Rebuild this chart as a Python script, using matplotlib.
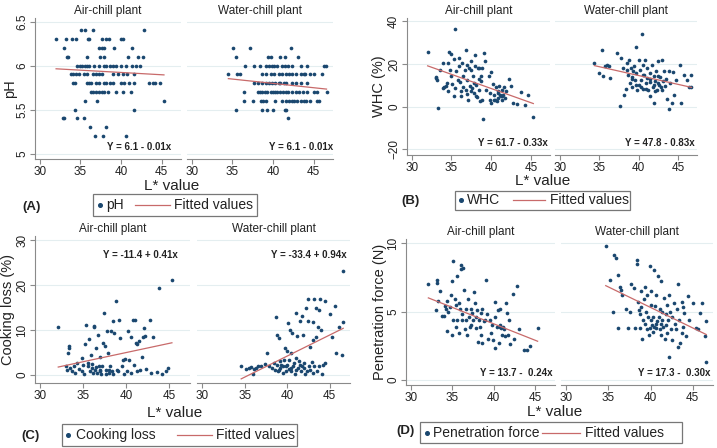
import numpy as np
import matplotlib
matplotlib.use("Agg")
import matplotlib.pyplot as plt
from matplotlib.lines import Line2D
from matplotlib.patches import Rectangle

plt.rcParams['font.family'] = ['Liberation Sans', 'DejaVu Sans']

W, H = 717, 448
groups = ["Air-chill plant", "Water-chill plant"]
x_ticks = [30, 35, 40, 45]
x_lim = (29.4, 47.4)

# (L*, value) pairs
ph_air = [(35.1, 6.4), (35.6, 6.4), (36.6, 6.4), (42.8, 6.4),
          (32.0, 6.3), (33.2, 6.3), (34.0, 6.3), (34.5, 6.3), (35.9, 6.3), (36.1, 6.3), (37.7, 6.3),
          (38.2, 6.3), (38.5, 6.3), (40.0, 6.3), (40.2, 6.3),
          (33.0, 6.2), (37.3, 6.2), (37.7, 6.2), (37.9, 6.2), (39.2, 6.2), (41.4, 6.2),
          (33.3, 6.1), (33.5, 6.1), (35.8, 6.1), (37.4, 6.1), (37.9, 6.1), (40.9, 6.1), (42.1, 6.1), (42.7, 6.1),
          (34.6, 6.0), (34.9, 6.0), (35.2, 6.0), (35.6, 6.0), (35.8, 6.0), (36.1, 6.0), (36.7, 6.0), (37.3, 6.0),
          (37.9, 6.0), (38.2, 6.0), (38.7, 6.0), (39.0, 6.0), (39.4, 6.0), (40.0, 6.0), (40.6, 6.0), (41.3, 6.0),
          (41.9, 6.0), (42.4, 6.0),
          (33.8, 5.9), (34.1, 5.9), (34.4, 5.9), (34.8, 5.9), (35.4, 5.9), (35.8, 5.9), (36.6, 5.9), (36.9, 5.9),
          (37.3, 5.9), (37.7, 5.9), (39.0, 5.9), (39.6, 5.9), (40.2, 5.9), (40.8, 5.9), (41.6, 5.9),
          (34.1, 5.8), (34.3, 5.8), (35.8, 5.8), (36.0, 5.8), (36.3, 5.8), (36.9, 5.8), (37.3, 5.8), (37.9, 5.8),
          (38.2, 5.8), (38.6, 5.8), (39.0, 5.8), (40.0, 5.8), (40.4, 5.8), (41.0, 5.8), (41.6, 5.8), (43.5, 5.8),
          (43.9, 5.8), (44.2, 5.8), (44.8, 5.8),
          (36.3, 5.7), (36.5, 5.7), (36.9, 5.7), (37.3, 5.7), (37.7, 5.7), (37.9, 5.7), (38.4, 5.7), (39.4, 5.7),
          (40.3, 5.7), (41.2, 5.7),
          (35.6, 5.6), (37.1, 5.6), (45.3, 5.6), (34.3, 5.5), (41.6, 5.5),
          (32.8, 5.4), (33.0, 5.4), (34.6, 5.4), (35.4, 5.4), (36.2, 5.3), (38.1, 5.3),
          (36.8, 5.2), (37.8, 5.2), (40.6, 5.2)]
ph_water = [(35.1, 6.2), (37.2, 6.2), (42.2, 6.2),
            (35.5, 6.1), (39.4, 6.1), (39.8, 6.1), (40.9, 6.1), (41.5, 6.1), (43.1, 6.1),
            (36.5, 6.0), (37.7, 6.0), (38.4, 6.0), (39.1, 6.0), (39.5, 6.0), (39.9, 6.0), (40.1, 6.0), (40.5, 6.0),
            (41.1, 6.0), (41.5, 6.0), (41.9, 6.0), (42.4, 6.0), (43.4, 6.0), (44.2, 6.0), (46.3, 6.0), (46.5, 6.0),
            (34.5, 5.9), (35.6, 5.9), (35.9, 5.9), (38.7, 5.9), (39.2, 5.9), (39.7, 5.9), (40.1, 5.9), (40.7, 5.9),
            (41.1, 5.9), (41.6, 5.9), (42.0, 5.9), (42.4, 5.9), (42.8, 5.9), (43.4, 5.9), (43.8, 5.9), (44.0, 5.9),
            (44.6, 5.9), (45.0, 5.9), (46.0, 5.9),
            (37.7, 5.8), (38.1, 5.8), (38.7, 5.8), (39.1, 5.8), (39.5, 5.8), (39.9, 5.8), (40.3, 5.8), (40.7, 5.8),
            (40.9, 5.8), (41.3, 5.8), (41.6, 5.8), (42.3, 5.8), (42.8, 5.8), (43.4, 5.8), (44.2, 5.8),
            (36.4, 5.7), (38.1, 5.7), (38.4, 5.7), (38.7, 5.7), (39.0, 5.7), (39.3, 5.7), (39.7, 5.7), (40.0, 5.7),
            (40.3, 5.7), (40.5, 5.7), (40.9, 5.7), (41.2, 5.7), (41.6, 5.7), (41.9, 5.7), (42.3, 5.7), (42.8, 5.7),
            (43.2, 5.7), (43.7, 5.7), (44.2, 5.7), (45.0, 5.7), (45.4, 5.7), (46.6, 5.7),
            (36.4, 5.6), (37.5, 5.6), (38.5, 5.6), (38.8, 5.6), (39.1, 5.6), (40.3, 5.6), (41.1, 5.6), (41.6, 5.6),
            (42.0, 5.6), (42.3, 5.6), (42.6, 5.6), (43.0, 5.6), (43.4, 5.6), (43.8, 5.6), (44.1, 5.6), (44.6, 5.6),
            (45.4, 5.6), (45.7, 5.6),
            (35.5, 5.5), (38.7, 5.5), (39.3, 5.5), (40.0, 5.5), (41.5, 5.5), (41.6, 5.5), (41.9, 5.4)]

whc_air = [(32.0, 25.5), (33.0, 14.0), (33.1, 13.4), (33.2, 12.7), (33.3, -0.6), (33.5, 17.0), (33.9, 20.5),
           (34.1, 9.2), (34.3, 9.8), (34.4, 11.0), (34.6, 20.5), (34.7, 25.5), (35.0, 24.8), (34.8, 17.0),
           (35.0, 14.2), (35.1, 10.6), (35.3, 4.8), (35.3, 22.3), (35.5, 36.4), (35.6, 16.6), (35.8, 12.7),
           (35.9, 19.0), (36.0, 22.8), (36.1, 11.5), (36.2, 4.8), (36.3, 20.5), (36.4, 9.0), (36.5, 14.2),
           (36.8, 26.7), (36.7, 17.4), (36.8, 8.0), (36.9, 19.7), (37.0, 12.7), (37.1, 3.3), (37.2, 18.1),
           (37.3, 9.8), (37.4, 21.3), (37.5, 17.4), (37.6, 8.8), (37.7, 14.2), (37.8, 6.4), (37.9, 24.4),
           (38.0, 18.9), (38.1, 10.3), (38.2, 4.4), (38.3, 18.1), (38.4, 8.0), (38.5, 18.1), (38.6, 2.5),
           (38.7, 11.9), (38.8, 18.1), (38.9, 3.3), (39.0, -5.8), (39.1, 25.2), (39.2, 21.3), (39.4, 8.0),
           (39.7, 14.2), (39.9, 6.4), (40.0, 16.3), (40.0, 1.7), (40.2, 10.6), (40.3, 3.3), (40.4, 5.6),
           (40.6, 9.2), (40.7, 2.5), (40.8, 6.4), (40.9, 4.1), (41.0, 9.5), (41.1, 5.6), (41.2, 4.8), (41.3, 8.0),
           (41.4, 3.3), (41.5, 5.6), (41.6, 9.0), (41.7, 4.1), (41.9, 7.2), (42.3, 13.1), (42.5, 9.8),
           (42.7, 1.7), (43.2, 1.4), (43.8, 6.7), (44.2, 0.9), (44.6, 5.6), (45.3, -5.0), (33.9, 8.8),
           (34.5, 7.2), (35.5, 8.8), (36.2, 7.2), (36.9, 6.1), (37.4, 7.2), (38.1, 4.8), (38.4, 13.0),
           (38.7, 14.2), (37.8, 11.1), (39.8, 3.3), (40.5, 3.3), (40.9, 7.2), (41.3, 5.2)]
whc_water = [(34.4, 20.5), (35.0, 15.8), (35.4, 26.7), (35.5, 14.2), (35.8, 19.2), (36.0, 19.7), (36.2, 19.2),
             (36.4, 13.4), (37.2, 25.2), (37.6, 0.5), (37.8, 22.8), (38.0, 18.1), (38.2, 5.6), (38.4, 8.3),
             (38.5, 20.5), (38.5, 17.4), (38.7, 15.0), (38.8, 22.0), (38.9, 11.1), (39.0, 18.1), (39.1, 13.9),
             (39.2, 9.2), (39.3, 16.6), (39.4, 19.2), (39.5, 12.7), (39.7, 28.0), (39.7, 15.8), (39.8, 7.7),
             (40.0, 10.3), (40.1, 22.0), (40.2, 17.4), (40.3, 12.7), (40.4, 34.2), (40.5, 19.7), (40.6, 8.3),
             (40.7, 15.0), (40.8, 22.0), (40.9, 11.1), (41.0, 13.4), (41.1, 18.1), (41.2, 8.0), (41.4, 15.8),
             (41.5, 11.5), (41.5, 4.8), (41.7, 19.7), (41.8, 9.2), (41.9, 14.2), (42.0, 1.7), (42.1, 11.9),
             (42.2, 16.6), (42.3, 8.0), (42.4, 14.5), (42.5, 21.3), (42.6, 10.3), (42.7, 13.9), (42.9, 7.7),
             (42.9, 22.0), (43.1, 11.9), (43.2, 16.6), (43.4, 9.5), (43.5, 12.9), (43.6, 3.6), (43.8, -1.1),
             (43.9, 16.6), (44.0, 11.1), (44.2, 1.7), (44.4, 16.1), (44.5, 5.6), (44.8, 12.7), (45.2, 19.7),
             (45.4, 1.7), (45.8, 15.0), (46.1, 12.4), (46.4, 9.2), (46.7, 15.0), (46.7, 9.2),
             (40.3, 9.2), (40.9, 8.3), (41.4, 13.0), (41.9, 10.3), (42.4, 11.1), (42.8, 9.2), (42.1, 7.2),
             (40.5, 15.0), (39.7, 10.3), (39.2, 13.0)]

cook_air = [(32.1, 10.6), (33.0, 1.9), (33.1, 1.2), (33.3, 6.5), (33.4, 6.0), (33.2, 4.9), (33.5, 1.6),
            (33.7, 0.8), (33.9, 2.1), (34.1, 0.4), (34.3, 2.7), (34.5, 1.3), (34.8, 3.8), (34.9, 0.8),
            (35.1, 0.3), (35.2, 7.0), (35.3, 11.2), (35.5, 1.9), (35.6, 2.7), (35.7, 8.0), (35.8, 0.8),
            (35.9, 4.5), (36.0, 1.6), (36.1, 0.4), (36.2, 10.8), (36.3, 11.0), (36.4, 1.2), (36.5, 6.0),
            (36.6, 0.4), (36.7, 9.0), (36.8, 1.9), (36.9, 0.8), (37.0, 4.0), (37.1, 0.1), (37.2, 1.9),
            (37.3, 7.1), (37.4, 13.8), (37.5, 6.4), (37.6, 1.2), (37.7, 0.3), (37.8, 9.7), (37.9, 4.9),
            (38.0, 1.2), (38.1, 2.1), (38.2, 9.7), (38.3, 0.8), (38.4, 12.1), (38.5, 0.3), (38.6, 9.3),
            (38.8, 16.6), (38.9, 1.2), (39.0, 0.8), (39.2, 12.3), (39.3, 8.2), (39.5, 1.9), (39.6, 3.4),
            (39.7, 0.1), (39.9, 3.6), (40.1, 0.8), (40.2, 9.9), (40.3, 3.3), (40.5, 8.5), (40.6, 0.4),
            (40.8, 12.3), (40.9, 2.3), (41.0, 12.3), (41.1, 7.1), (41.2, 0.8), (41.3, 6.8), (41.5, 7.5),
            (41.6, 1.2), (41.8, 4.0), (41.9, 8.5), (42.1, 10.5), (42.2, 8.6), (42.3, 1.4), (42.7, 12.3),
            (42.9, 0.4), (43.1, 8.4), (43.6, 0.6), (43.8, 19.4), (44.1, 0.3), (44.6, 0.8), (44.9, 1.6),
            (45.3, 21.1), (36.0, 2.5), (37.0, 1.0), (38.0, 0.5), (36.5, 1.7), (35.0, 2.2)]
cook_water = [(34.6, 1.9), (35.2, 1.3), (35.5, 1.6), (35.7, 1.8), (36.0, 0.3), (36.1, 1.3), (36.3, 1.6),
              (36.6, 1.9), (36.9, 1.9), (37.4, 2.5), (37.6, 4.9), (37.9, 1.9), (38.2, 1.6), (38.4, 2.7),
              (38.6, 1.2), (38.7, 12.9), (38.8, 9.0), (38.8, 2.3), (38.9, 0.8), (39.1, 8.2), (39.2, 1.6),
              (39.2, 3.0), (39.3, 2.3), (39.5, 0.4), (39.5, 1.9), (39.6, 3.4), (39.7, 6.0), (39.9, 0.8),
              (39.9, 1.9), (40.0, 5.3), (40.1, 11.6), (40.2, 1.3), (40.2, 3.4), (40.3, 10.0), (40.4, 0.8),
              (40.5, 4.9), (40.6, 9.4), (40.7, 1.9), (40.8, 2.7), (40.9, 0.3), (41.0, 13.8), (41.1, 3.8),
              (41.2, 8.6), (41.3, 1.6), (41.4, 3.0), (41.5, 12.0), (41.6, 0.8), (41.7, 13.2), (41.8, 1.9),
              (41.9, 9.0), (42.0, 2.7), (42.1, 0.1), (42.2, 14.9), (42.3, 0.8), (42.4, 17.0), (42.5, 12.0),
              (42.6, 1.9), (42.7, 6.2), (42.7, 1.2), (42.9, 2.8), (43.0, 11.7), (43.1, 7.9), (43.2, 17.0),
              (43.2, 1.9), (43.4, 8.4), (43.4, 14.9), (43.5, 0.8), (43.6, 10.7), (43.7, 14.6), (43.8, 1.9),
              (43.9, 17.0), (44.0, 10.1), (44.1, 0.1), (44.2, 2.3), (44.4, 16.4), (44.5, 2.7), (45.0, 13.6),
              (45.3, 8.4), (45.6, 15.3), (45.8, 5.0), (46.1, 10.8), (46.4, 4.4), (46.6, 11.8), (46.6, 23.2),
              (39.0, 1.2), (40.0, 2.2), (41.0, 1.0), (42.0, 1.5), (43.0, 0.5), (41.5, 2.3), (40.5, 1.5)]

pen_air = [(32.1, 7.0), (33.0, 5.1), (33.1, 7.3), (33.2, 7.1), (33.3, 5.8), (33.5, 6.5), (33.8, 4.7),
           (34.0, 4.7), (34.1, 5.4), (34.2, 5.2), (34.4, 5.8), (34.4, 3.6), (34.5, 5.0), (34.7, 5.3),
           (34.8, 6.2), (34.9, 3.3), (35.0, 7.2), (35.1, 4.4), (35.1, 8.7), (35.3, 5.9), (35.4, 3.9),
           (35.5, 5.5), (35.6, 7.6), (35.6, 4.4), (35.8, 5.6), (35.8, 3.4), (35.9, 5.2), (36.0, 8.4),
           (36.1, 8.1), (36.2, 4.8), (36.2, 4.4), (36.3, 8.2), (36.4, 6.6), (36.5, 3.7), (36.6, 5.2),
           (36.7, 4.4), (36.8, 3.3), (36.9, 5.9), (37.0, 4.6), (37.1, 3.9), (37.2, 5.2), (37.3, 4.0),
           (37.4, 4.9), (37.5, 4.4), (37.6, 6.4), (37.7, 5.6), (37.8, 3.8), (37.9, 4.6), (38.0, 5.1),
           (38.1, 2.8), (38.2, 4.4), (38.3, 3.9), (38.4, 4.9), (38.5, 3.3), (38.6, 5.2), (38.6, 2.7),
           (38.8, 4.3), (39.0, 4.4), (39.1, 7.3), (39.2, 4.8), (39.3, 3.0), (39.5, 4.4), (39.7, 3.4),
           (39.8, 4.0), (39.9, 2.9), (40.1, 5.7), (40.1, 2.3), (40.2, 4.6), (40.4, 3.9), (40.5, 5.1),
           (40.6, 2.7), (40.7, 4.0), (40.8, 5.2), (40.8, 3.9), (40.9, 3.8), (41.0, 3.3), (41.1, 3.9),
           (41.2, 3.7), (41.4, 3.2), (41.5, 5.6), (41.6, 4.9), (41.7, 3.3), (41.8, 4.4), (42.0, 2.6),
           (42.3, 6.3), (42.5, 3.0), (42.8, 6.9), (43.1, 3.7), (43.6, 2.2), (44.0, 2.2), (44.4, 2.5),
           (45.3, 3.8)]
pen_water = [(34.7, 9.8), (35.2, 7.3), (35.6, 5.0), (35.7, 9.1), (35.9, 8.9), (36.1, 3.8), (36.2, 7.7),
             (36.4, 6.8), (36.5, 6.6), (36.6, 6.2), (37.1, 5.2), (37.3, 3.8), (37.6, 5.0), (37.7, 7.0),
             (38.0, 6.7), (38.2, 3.8), (38.4, 8.5), (38.4, 8.8), (38.5, 5.7), (38.6, 5.1), (38.7, 4.8),
             (38.8, 3.8), (38.9, 6.5), (38.9, 5.3), (39.0, 3.0), (39.1, 4.4), (39.2, 5.9), (39.3, 4.1),
             (39.4, 6.8), (39.5, 5.0), (39.6, 6.2), (39.6, 3.7), (39.7, 4.6), (39.8, 3.3), (39.9, 8.3),
             (40.0, 4.4), (40.0, 5.5), (40.1, 6.5), (40.2, 4.0), (40.3, 3.5), (40.3, 4.6), (40.4, 8.0),
             (40.5, 5.4), (40.6, 4.1), (40.7, 6.2), (40.7, 3.8), (40.9, 7.6), (41.0, 4.6), (41.1, 3.7),
             (41.1, 5.2), (41.2, 7.2), (41.3, 3.3), (41.4, 4.4), (41.4, 5.0), (41.5, 3.9), (41.6, 6.0),
             (41.7, 3.0), (41.8, 4.8), (41.8, 4.0), (41.9, 5.5), (42.0, 3.4), (42.1, 4.4), (42.2, 1.7),
             (42.2, 6.2), (42.3, 5.0), (42.4, 3.7), (42.6, 4.6), (42.6, 2.9), (42.8, 5.6), (42.9, 4.1),
             (43.0, 3.7), (43.1, 5.2), (43.2, 2.4), (43.3, 7.0), (43.4, 4.4), (43.5, 2.7), (43.7, 5.7),
             (43.7, 3.4), (43.8, 5.3), (43.9, 3.9), (44.0, 4.9), (44.2, 3.2), (44.4, 6.1), (44.6, 4.4),
             (45.0, 5.6), (45.4, 3.8), (45.6, 3.7), (45.9, 4.9), (46.1, 5.6), (46.4, 3.2), (46.6, 1.3),
             (46.6, 4.3), (40.4, 3.9), (40.8, 4.3), (41.2, 4.1), (39.9, 3.8)]

# fitted lines (intercept, slope) for air / water, as drawn
ph_fit = [(6.13, -0.0052), (6.19, -0.0098)]
whc_fit = [(61.7, -1.33), (47.8, -0.83)]
cook_fit = [(-11.4, 0.41), (-33.4, 0.94)]
pen_fit = [(13.7, -0.24), (17.3, -0.30)]

ph_eq = ["Y = 6.1 - 0.01x", "Y = 6.1 - 0.01x"]
whc_eq = ["Y = 61.7 - 0.33x", "Y = 47.8 - 0.83x"]
cook_eq = ["Y = -11.4 + 0.41x", "Y = -33.4 + 0.94x"]
pen_eq = ["Y = 13.7 -  0.24x", "Y = 17.3 -  0.30x"]

ph_yticks = [5, 5.5, 6, 6.5]
ph_yticklabels = ["5", "5.5", "6", "6.5"]
whc_yticks = [-20, 0, 20, 40]
cook_yticks = [0, 10, 20, 30]
pen_yticks = [0, 5, 10]

navy = '#1a476f'
red = '#c86a6a'
axis_gray = '#8a8a8a'
grid_col = '#e4eef0'

# layout in pixels: axes x-extents, top/bottom, labels, legend box
panels = [
    dict(tag="(A)", name="pH", ylabel="pH", data=[ph_air, ph_water], fit=ph_fit, eq=ph_eq,
         yticks=ph_yticks, yticklabels=ph_yticklabels, ylim=(4.94, 6.54),
         axx=[(35, 181), (187, 333)], top=18, bot=159, eqpos=[(0.93, 0.085), (1.0, 0.085)],
         ylab_x=10, xlab=(172, 186), tag_xy=(22, 207),
         box=(93, 257, 194, 216), dot_x=100, txt_x=106, line=(135, 170), fit_x=174),
    dict(tag="(B)", name="WHC", ylabel="WHC (%)", data=[whc_air, whc_water], fit=whc_fit, eq=whc_eq,
         yticks=whc_yticks, yticklabels=None, ylim=(-22.7, 41.6),
         axx=[(407, 550), (555, 697)], top=18, bot=155, eqpos=[(0.985, 0.088), (0.985, 0.088)],
         ylab_x=379, xlab=(543, 181), tag_xy=(401, 201),
         box=(455, 630, 191, 210), dot_x=461, txt_x=467, line=(513, 545), fit_x=550),
    dict(tag="(C)", name="Cooking loss", ylabel="Cooking loss (%)", data=[cook_air, cook_water], fit=cook_fit,
         eq=cook_eq, yticks=cook_yticks, yticklabels=None, ylim=(-1.8, 31),
         axx=[(35, 190), (197, 350)], top=236, bot=383, eqpos=[(0.92, 0.87), (0.98, 0.87)],
         ylab_x=8, xlab=(175, 413), tag_xy=(21, 436),
         box=(62, 297, 424, 446), dot_x=68, txt_x=76, line=(177, 212), fit_x=216),
    dict(tag="(D)", name="Penetration force", ylabel="Penetration force (N)", data=[pen_air, pen_water],
         fit=pen_fit, eq=pen_eq, yticks=pen_yticks, yticklabels=None, ylim=(-0.37, 10.3),
         axx=[(406, 555), (561, 713)], top=239, bot=385, eqpos=[(0.985, 0.082), (0.98, 0.082)],
         ylab_x=380, xlab=(555, 412), tag_xy=(396, 431),
         box=(420, 682, 422, 443), dot_x=427, txt_x=433, line=(542, 580), fit_x=585),
]

fig = plt.figure(figsize=(W / 100, H / 100), dpi=100)


def fx(x):
    return x / W


def fy(y):
    return 1 - y / H


for p in panels:
    for i, (x0, x1) in enumerate(p["axx"]):
        ax = fig.add_axes([fx(x0), fy(p["bot"]), (x1 - x0) / W, (p["bot"] - p["top"]) / H])
        pts = np.array(p["data"][i])
        ax.scatter(pts[:, 0], pts[:, 1], s=7, color=navy, linewidths=0, zorder=3)
        a, b = p["fit"][i]
        xs = np.array([pts[:, 0].min(), pts[:, 0].max()])
        ax.plot(xs, a + b * xs, color=red, lw=0.9, zorder=4)
        ax.set_xlim(x_lim)
        ax.set_ylim(p["ylim"])
        ax.set_xticks(x_ticks)
        ax.set_yticks(p["yticks"])
        for yt in p["yticks"]:
            ax.axhline(yt, color=grid_col, lw=0.8, zorder=1)
        for s in ["top", "right"]:
            ax.spines[s].set_visible(False)
        ax.spines["bottom"].set_color(axis_gray)
        ax.spines["left"].set_color(axis_gray)
        ax.tick_params(colors=axis_gray, labelcolor='#222222', labelsize=8.5, length=3.5, width=0.8, pad=1.5)
        if i == 0:
            if p["yticklabels"]:
                ax.set_yticklabels(p["yticklabels"])
            for lab in ax.get_yticklabels():
                lab.set_rotation(90)
                lab.set_va('center')
        else:
            ax.spines["left"].set_visible(False)
            ax.tick_params(axis='y', left=False, labelleft=False)
        ax.set_title(groups[i], fontsize=8.5, pad=3, color='#222222')
        ex, ey = p["eqpos"][i]
        ax.text(ex, ey, p["eq"][i], transform=ax.transAxes, ha='right', va='center',
                fontsize=7, fontweight='bold', color='#222222')

    # axis titles
    fig.text(fx(p["ylab_x"]), fy((p["top"] + p["bot"]) / 2), p["ylabel"], rotation=90,
             ha='center', va='center', fontsize=10.5, color='#222222')
    fig.text(fx(p["xlab"][0]), fy(p["xlab"][1]), "L* value", ha='center', va='center',
             fontsize=11, color='#222222')
    fig.text(fx(p["tag_xy"][0]), fy(p["tag_xy"][1]), p["tag"], ha='left', va='center',
             fontsize=9.5, fontweight='bold', color='#222222')

    # legend box
    bx0, bx1, by0, by1 = p["box"]
    fig.add_artist(Rectangle((fx(bx0), fy(by1)), (bx1 - bx0) / W, (by1 - by0) / H,
                             transform=fig.transFigure, fill=False, edgecolor='#777777', lw=0.9))
    cy = fy((by0 + by1) / 2)
    fig.add_artist(Line2D([fx(p["dot_x"])], [cy], marker='o', ms=2.6, color=navy, ls='',
                          transform=fig.transFigure))
    fig.text(fx(p["txt_x"]), cy, p["name"], ha='left', va='center', fontsize=10, color='#222222')
    fig.add_artist(Line2D([fx(p["line"][0]), fx(p["line"][1])], [cy, cy], color=red, lw=0.9,
                          transform=fig.transFigure))
    fig.text(fx(p["fit_x"]), cy, "Fitted values", ha='left', va='center', fontsize=10, color='#222222')

fig.savefig("out.png", dpi=100)
